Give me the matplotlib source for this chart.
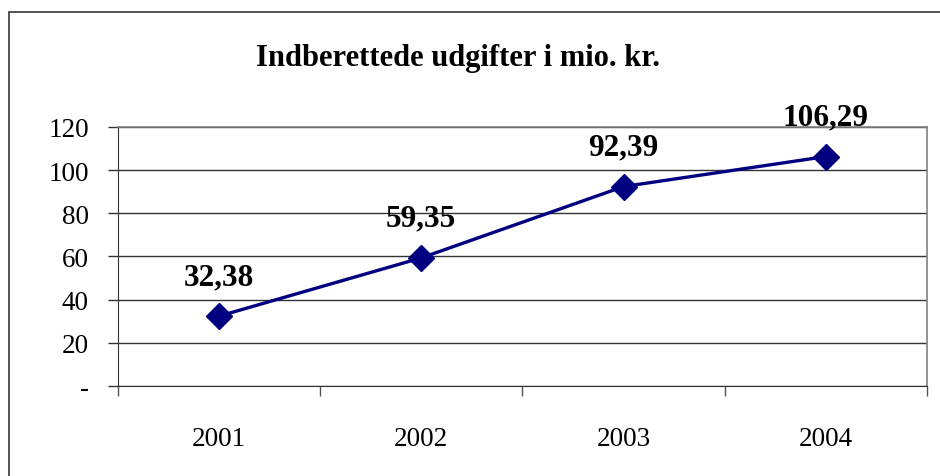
import numpy as np
import matplotlib.pyplot as plt
from matplotlib.patches import Rectangle

plt.rc('font', family='Liberation Serif')

# data
years = ["2001", "2002", "2003", "2004"]
values = [32.38, 59.35, 92.39, 106.29]
value_labels = ["32,38", "59,35", "92,39", "106,29"]
yticks = [0, 20, 40, 60, 80, 100, 120]
ytick_labels = ["-", "20", "40", "60", "80", "100", "120"]

fig = plt.figure(figsize=(9.4, 4.77), dpi=100)
ax = fig.add_axes([0.1255, 0.1887, 0.986 - 0.1255, 0.7317 - 0.1887])

# outer frame (runs off the right and bottom edge)
fig.patches.append(Rectangle((0.0096, -0.1), 1.2, 0.9727 + 0.1, transform=fig.transFigure,
                             fill=False, edgecolor='#333333', linewidth=1.2))

x = np.arange(len(years))
ax.plot(x, values, color='#000080', linewidth=2.4, marker='D', markersize=13,
        zorder=3, clip_on=False)

for xi, v, lab in zip(x, values, value_labels):
    ax.annotate(lab, (xi, v), xytext=(0, 28.5), textcoords='offset points',
                ha='center', va='center', fontsize=22.5, fontweight='bold')

ax.set_xlim(-0.5, 3.5)
ax.set_ylim(0, 120)
ax.set_yticks(yticks)
ax.set_yticklabels(ytick_labels, fontsize=19.5)
ax.set_xticks(x)
ax.set_xticklabels(years, fontsize=19.5)
ax.set_xticks(np.arange(-0.5, 4, 1), minor=True)
ax.tick_params(axis='x', which='major', length=0, pad=29)
ax.tick_params(axis='x', which='minor', length=7, width=1, color='#555555')
ax.tick_params(axis='y', length=7, width=1, color='#333333', pad=14)

ax.grid(axis='y', color='#333333', linewidth=1)
ax.set_axisbelow(True)
for s in ['top', 'right']:
    ax.spines[s].set_color('#808080')
    ax.spines[s].set_linewidth(1.2)
ax.spines['left'].set_color('#333333')
ax.spines['bottom'].set_color('#333333')

fig.text(0.487, 0.878, "Indberettede udgifter i mio. kr.", ha='center', va='center',
         fontsize=22, fontweight='bold')

plt.savefig("out.png", dpi=100)
